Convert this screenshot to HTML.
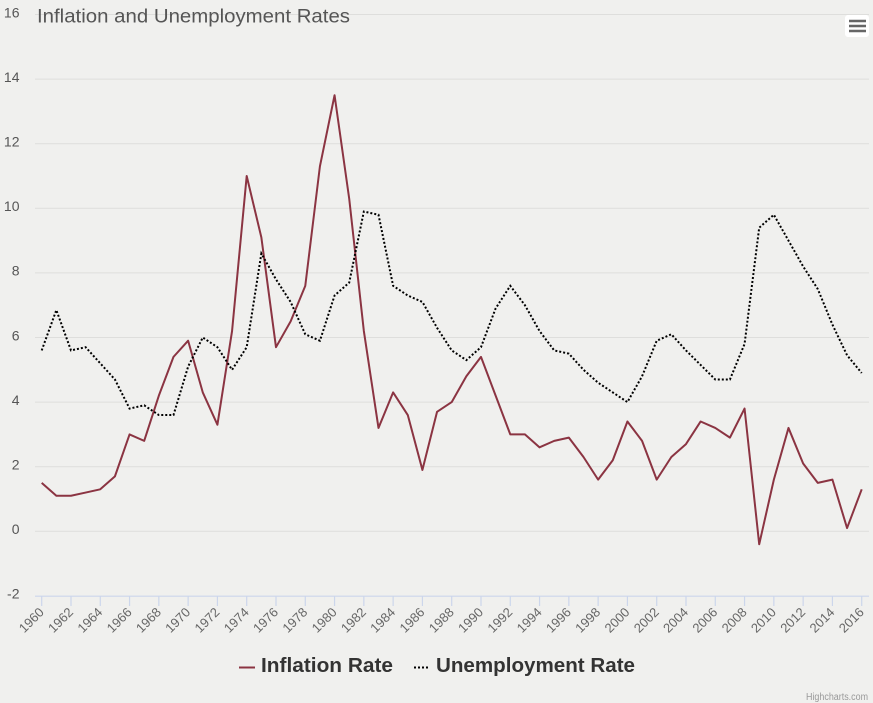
<!DOCTYPE html>
<html><head><meta charset="utf-8"><style>
html,body{margin:0;padding:0;background:#f0f0ee;}
svg{display:block;font-family:"Liberation Sans",sans-serif;}
</style></head><body>
<svg width="873" height="703" viewBox="0 0 873 703" xmlns="http://www.w3.org/2000/svg">
<rect x="0" y="0" width="873" height="703" fill="#f0f0ee"/>
<g stroke="#dededc" stroke-width="1">
<line x1="35" x2="869" y1="14.5" y2="14.5"/>
<line x1="35" x2="869" y1="79.1" y2="79.1"/>
<line x1="35" x2="869" y1="143.7" y2="143.7"/>
<line x1="35" x2="869" y1="208.3" y2="208.3"/>
<line x1="35" x2="869" y1="272.9" y2="272.9"/>
<line x1="35" x2="869" y1="337.5" y2="337.5"/>
<line x1="35" x2="869" y1="402.1" y2="402.1"/>
<line x1="35" x2="869" y1="466.7" y2="466.7"/>
<line x1="35" x2="869" y1="531.3" y2="531.3"/>
</g>
<line x1="35" x2="869" y1="596.2" y2="596.2" stroke="#ccd6eb" stroke-width="1.2"/>
<g stroke="#ccd6eb" stroke-width="1.2">
<line x1="41.7" x2="41.7" y1="596" y2="606"/><line x1="70.99" x2="70.99" y1="596" y2="606"/><line x1="100.27" x2="100.27" y1="596" y2="606"/><line x1="129.56" x2="129.56" y1="596" y2="606"/><line x1="158.84" x2="158.84" y1="596" y2="606"/><line x1="188.13" x2="188.13" y1="596" y2="606"/><line x1="217.42" x2="217.42" y1="596" y2="606"/><line x1="246.7" x2="246.7" y1="596" y2="606"/><line x1="275.99" x2="275.99" y1="596" y2="606"/><line x1="305.27" x2="305.27" y1="596" y2="606"/><line x1="334.56" x2="334.56" y1="596" y2="606"/><line x1="363.85" x2="363.85" y1="596" y2="606"/><line x1="393.13" x2="393.13" y1="596" y2="606"/><line x1="422.42" x2="422.42" y1="596" y2="606"/><line x1="451.7" x2="451.7" y1="596" y2="606"/><line x1="480.99" x2="480.99" y1="596" y2="606"/><line x1="510.28" x2="510.28" y1="596" y2="606"/><line x1="539.56" x2="539.56" y1="596" y2="606"/><line x1="568.85" x2="568.85" y1="596" y2="606"/><line x1="598.13" x2="598.13" y1="596" y2="606"/><line x1="627.42" x2="627.42" y1="596" y2="606"/><line x1="656.71" x2="656.71" y1="596" y2="606"/><line x1="685.99" x2="685.99" y1="596" y2="606"/><line x1="715.28" x2="715.28" y1="596" y2="606"/><line x1="744.56" x2="744.56" y1="596" y2="606"/><line x1="773.85" x2="773.85" y1="596" y2="606"/><line x1="803.14" x2="803.14" y1="596" y2="606"/><line x1="832.42" x2="832.42" y1="596" y2="606"/><line x1="861.71" x2="861.71" y1="596" y2="606"/>
</g>
<g fill="#555" font-size="14" text-anchor="end">
<text x="19.5" y="17.3">16</text>
<text x="19.5" y="81.9">14</text>
<text x="19.5" y="146.5">12</text>
<text x="19.5" y="211.1">10</text>
<text x="19.5" y="275.7">8</text>
<text x="19.5" y="340.3">6</text>
<text x="19.5" y="404.9">4</text>
<text x="19.5" y="469.5">2</text>
<text x="19.5" y="533.8">0</text>
<text x="19.5" y="598.5">-2</text>
</g>
<g fill="#666" font-size="13" text-anchor="end">
<text transform="translate(44.7,613) rotate(-45)">1960</text>
<text transform="translate(73.99,613) rotate(-45)">1962</text>
<text transform="translate(103.27,613) rotate(-45)">1964</text>
<text transform="translate(132.56,613) rotate(-45)">1966</text>
<text transform="translate(161.84,613) rotate(-45)">1968</text>
<text transform="translate(191.13,613) rotate(-45)">1970</text>
<text transform="translate(220.42,613) rotate(-45)">1972</text>
<text transform="translate(249.7,613) rotate(-45)">1974</text>
<text transform="translate(278.99,613) rotate(-45)">1976</text>
<text transform="translate(308.27,613) rotate(-45)">1978</text>
<text transform="translate(337.56,613) rotate(-45)">1980</text>
<text transform="translate(366.85,613) rotate(-45)">1982</text>
<text transform="translate(396.13,613) rotate(-45)">1984</text>
<text transform="translate(425.42,613) rotate(-45)">1986</text>
<text transform="translate(454.7,613) rotate(-45)">1988</text>
<text transform="translate(483.99,613) rotate(-45)">1990</text>
<text transform="translate(513.28,613) rotate(-45)">1992</text>
<text transform="translate(542.56,613) rotate(-45)">1994</text>
<text transform="translate(571.85,613) rotate(-45)">1996</text>
<text transform="translate(601.13,613) rotate(-45)">1998</text>
<text transform="translate(630.42,613) rotate(-45)">2000</text>
<text transform="translate(659.71,613) rotate(-45)">2002</text>
<text transform="translate(688.99,613) rotate(-45)">2004</text>
<text transform="translate(718.28,613) rotate(-45)">2006</text>
<text transform="translate(747.56,613) rotate(-45)">2008</text>
<text transform="translate(776.85,613) rotate(-45)">2010</text>
<text transform="translate(806.14,613) rotate(-45)">2012</text>
<text transform="translate(835.42,613) rotate(-45)">2014</text>
<text transform="translate(864.71,613) rotate(-45)">2016</text>
</g>
<polyline fill="none" stroke="#8b3442" stroke-width="2" stroke-linejoin="round" points="41.7,482.85 56.34,495.77 70.99,495.77 85.63,492.54 100.27,489.31 114.92,476.39 129.56,434.4 144.2,440.86 158.84,395.64 173.49,356.88 188.13,340.73 202.77,392.41 217.42,424.71 232.06,331.04 246.7,176 261.35,237.37 275.99,347.19 290.63,321.35 305.27,285.82 319.92,166.31 334.56,95.25 349.2,198.61 363.85,331.04 378.49,427.94 393.13,392.41 407.78,415.02 422.42,469.93 437.06,411.79 451.7,402.1 466.35,376.26 480.99,356.88 495.63,395.64 510.28,434.4 524.92,434.4 539.56,447.32 554.21,440.86 568.85,437.63 583.49,457.01 598.13,479.62 612.78,460.24 627.42,421.48 642.06,440.86 656.71,479.62 671.35,457.01 685.99,444.09 700.64,421.48 715.28,427.94 729.92,437.63 744.56,408.56 759.21,544.22 773.85,479.62 788.49,427.94 803.14,463.47 817.78,482.85 832.42,479.62 847.07,528.07 861.71,489.31"/>
<polyline fill="none" stroke="#000" stroke-width="2" stroke-dasharray="2,2" points="41.7,350.42 56.34,310.05 70.99,350.42 85.63,347.19 100.27,363.34 114.92,379.49 129.56,408.56 144.2,405.33 158.84,415.02 173.49,415.02 188.13,366.57 202.77,337.5 217.42,347.19 232.06,369.8 246.7,347.19 261.35,253.52 275.99,279.36 290.63,301.97 305.27,334.27 319.92,340.73 334.56,295.51 349.2,282.59 363.85,211.53 378.49,214.76 393.13,285.82 407.78,295.51 422.42,301.97 437.06,327.81 451.7,350.42 466.35,360.11 480.99,347.19 495.63,308.43 510.28,285.82 524.92,305.2 539.56,331.04 554.21,350.42 568.85,353.65 583.49,369.8 598.13,382.72 612.78,392.41 627.42,402.1 642.06,376.26 656.71,340.73 671.35,334.27 685.99,350.42 700.64,364.96 715.28,379.49 729.92,379.49 744.56,343.96 759.21,227.68 773.85,214.76 788.49,240.6 803.14,266.44 817.78,289.05 832.42,324.58 847.07,355.27 861.71,373.03"/>
<text x="37" y="22.3" fill="#555" font-size="19.5" textLength="313" lengthAdjust="spacingAndGlyphs">Inflation and Unemployment Rates</text>
<rect x="845" y="15" width="24" height="22" rx="3" fill="#ffffff"/>
<g stroke="#666" stroke-width="2.5">
<line x1="849" x2="866" y1="21" y2="21"/>
<line x1="849" x2="866" y1="26" y2="26"/>
<line x1="849" x2="866" y1="31" y2="31"/>
</g>
<line x1="239" x2="255" y1="667.5" y2="667.5" stroke="#8b3442" stroke-width="2"/>
<text x="261" y="672" fill="#333" font-size="20" font-weight="bold" textLength="132" lengthAdjust="spacingAndGlyphs">Inflation Rate</text>
<line x1="414" x2="430" y1="667.5" y2="667.5" stroke="#000" stroke-width="2" stroke-dasharray="2,2"/>
<text x="436" y="672" fill="#333" font-size="20" font-weight="bold" textLength="199" lengthAdjust="spacingAndGlyphs">Unemployment Rate</text>
<text x="868" y="700" fill="#999" font-size="10" text-anchor="end" textLength="62" lengthAdjust="spacingAndGlyphs">Highcharts.com</text>
</svg>
</body></html>
